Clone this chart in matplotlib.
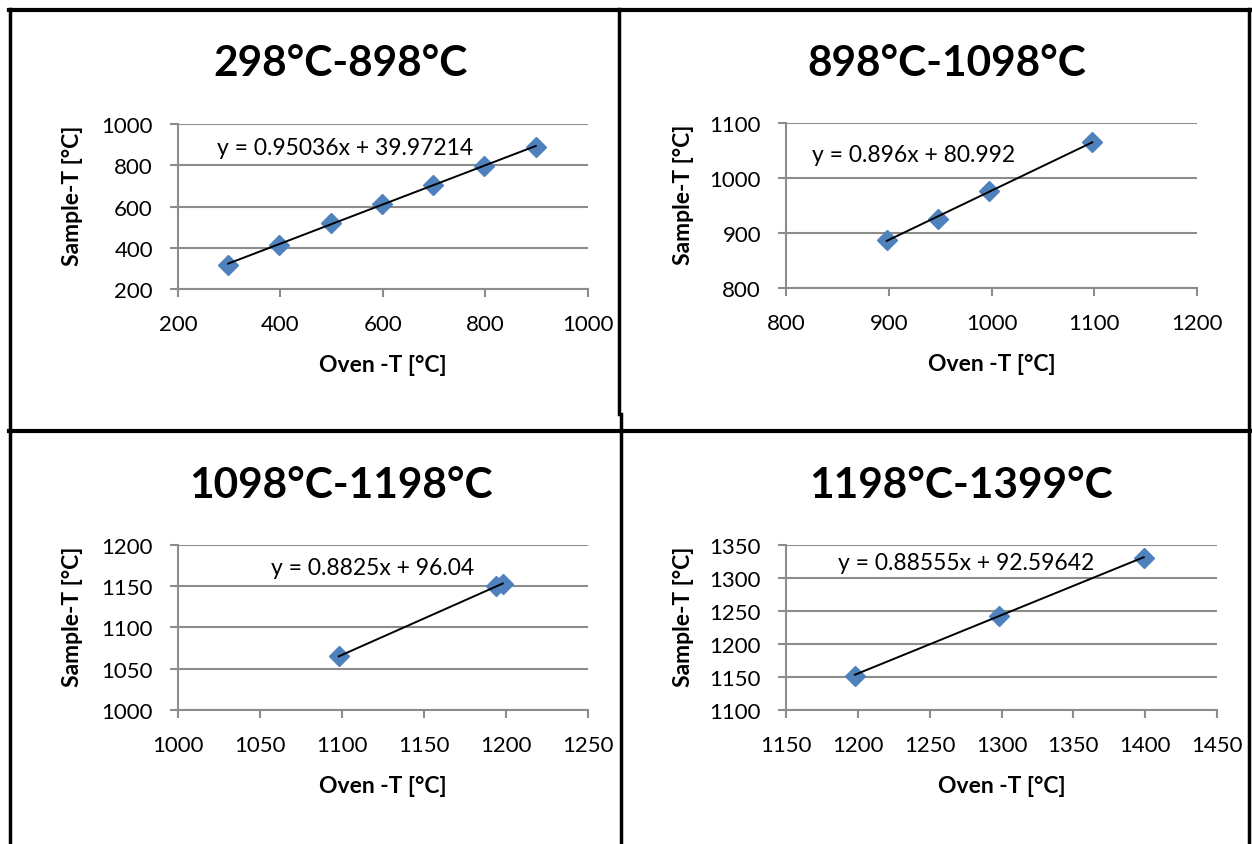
import numpy as np
import matplotlib
matplotlib.use("Agg")
import matplotlib.pyplot as plt
from matplotlib.lines import Line2D

plt.rcParams['font.family'] = ['Lato', 'DejaVu Sans']

# data
titles = ['298°C-898°C', '898°C-1098°C', '1098°C-1198°C', '1198°C-1399°C']

oven_1 = [298, 398, 498, 598, 698, 798, 898]
sample_1 = [318, 415, 520, 613, 704, 797, 888]

oven_2 = [898, 948, 998, 1098]
sample_2 = [887, 925, 977, 1065]

oven_3 = [1098, 1194, 1198]
sample_3 = [1065, 1150, 1153]

oven_4 = [1198, 1298, 1399]
sample_4 = [1152, 1243, 1331]

slopes = [0.95036, 0.896, 0.8825, 0.88555]
intercepts = [39.97214, 80.992, 96.04, 92.59642]
equations = ['y = 0.95036x + 39.97214', 'y = 0.896x + 80.992',
             'y = 0.8825x + 96.04', 'y = 0.88555x + 92.59642']

x_ranges = [(200, 1000, 200), (800, 1200, 100), (1000, 1250, 50), (1150, 1450, 50)]
y_ranges = [(200, 1000, 200), (800, 1100, 100), (1000, 1200, 50), (1100, 1350, 50)]

ovens = [oven_1, oven_2, oven_3, oven_4]
samples = [sample_1, sample_2, sample_3, sample_4]

W, H = 1252, 845
fig = plt.figure(figsize=(W / 100, H / 100), dpi=100)

# axes boxes in pixels: left, top, right, bottom
boxes = [(178, 125, 588, 290), (786, 124, 1197, 289),
         (178, 546, 588, 711), (786, 546, 1217, 711)]
title_pos = [(341, 64), (947, 64), (341, 486), (961, 486)]
ylabel_x = [73, 683, 73, 683]
# equation label anchor (data coords)
eq_pos = [(276, 886), (825, 1043), (1057, 1173), (1186, 1324)]

grid_c = '#8c8c8c'
blue = '#4F81BD'

for i in range(4):
    l, t, r, b = boxes[i]
    ax = fig.add_axes([l / W, 1 - b / H, (r - l) / W, (b - t) / H])
    x0, x1, xs = x_ranges[i]
    y0, y1, ys = y_ranges[i]
    ax.set_xlim(x0, x1)
    ax.set_ylim(y0, y1)
    ax.set_xticks(np.arange(x0, x1 + 1, xs))
    ax.set_yticks(np.arange(y0, y1 + 1, ys))
    ax.yaxis.grid(True, color=grid_c, linewidth=1.5)
    ax.set_axisbelow(True)
    for s in ['top', 'right']:
        ax.spines[s].set_visible(False)
    for s in ['left', 'bottom']:
        ax.spines[s].set_color(grid_c)
        ax.spines[s].set_linewidth(1.5)
    ax.tick_params(direction='out', length=6, width=1.5, color=grid_c,
                   labelsize=16, pad=12)

    # trendline from the stated fit
    xs_fit = np.array([min(ovens[i]), max(ovens[i])])
    ax.plot(xs_fit, slopes[i] * xs_fit + intercepts[i], color='black', lw=1.4, zorder=3)
    ax.plot(ovens[i], samples[i], 'D', color=blue, ms=10.5, mec=blue, zorder=2, clip_on=False)
    ax.text(eq_pos[i][0], eq_pos[i][1], equations[i], fontsize=16.5,
            ha='left', va='center')

    ax.set_xlabel('Oven -T [°C]', fontsize=16.5, fontweight='bold')
    ax.xaxis.set_label_coords(0.5, -0.455)
    ax.xaxis.label.set_va('center')
    ax.set_ylabel('Sample-T [°C]', fontsize=16.5, fontweight='bold')
    ax.yaxis.set_label_coords((ylabel_x[i] - l) / (r - l), 0.573)
    ax.yaxis.label.set_va('center')

    tx, ty = title_pos[i]
    fig.text(tx / W, 1 - ty / H, titles[i], fontsize=30.5, fontweight='bold',
             ha='center', va='center')

# table borders around the charts
def hline(y, xa, xb, lw=3):
    fig.add_artist(Line2D([xa / W, xb / W], [1 - y / H, 1 - y / H], color='black', lw=lw))

def vline(x, ya, yb, lw=2.5):
    fig.add_artist(Line2D([x / W, x / W], [1 - ya / H, 1 - yb / H], color='black', lw=lw))

hline(11, 9, 1250)
hline(432, 9, 1250)
vline(10, 10, 845)
vline(619, 10, 415)
vline(621, 415, 845)
vline(1249, 10, 845)

fig.savefig('out.png', dpi=100)
